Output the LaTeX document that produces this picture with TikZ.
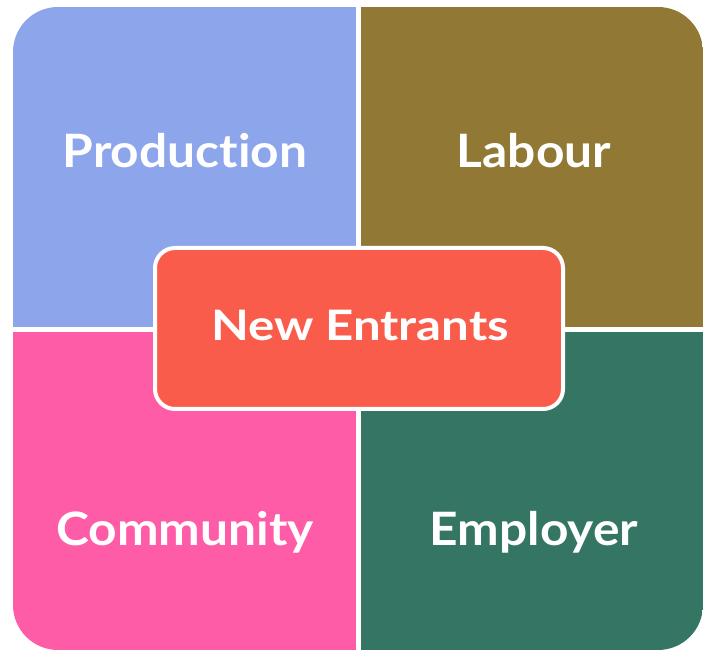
\documentclass[tikz,border=0pt]{standalone}
\usepackage{fontspec}
\setmainfont{Lato}[Ligatures=CommonOff]
\definecolor{qblue}{HTML}{8DA5EA}
\definecolor{qbrown}{HTML}{917935}
\definecolor{qpink}{HTML}{FF5CA8}
\definecolor{qgreen}{HTML}{347563}
\definecolor{qred}{HTML}{FA5C4B}
\begin{document}
\begin{tikzpicture}[x=1pt,y=1pt,
  lbl/.style={text=white,font=\fontsize{46}{54}\selectfont\bfseries\addfontfeature{FakeStretch=1.08},inner sep=0pt,anchor=base},
  clbl/.style={text=white,font=\fontsize{42}{50}\selectfont\bfseries\addfontfeature{FakeStretch=1.17},inner sep=0pt,anchor=base}]
\useasboundingbox (0,0) rectangle (709,650);
\begin{scope}
  \clip[rounded corners=45] (13,0) rectangle (703,643);
  \fill[qblue] (13,322.5) rectangle (356,643);
  \fill[qbrown] (361,322.5) rectangle (703,643);
  \fill[qpink] (13,0) rectangle (356,318);
  \fill[qgreen] (361,0) rectangle (703,318);
\end{scope}
\node[lbl] (prod) at (185,482) {Produc\kern0ptt\kern0pti\kern0pton};
\node[lbl] (lab) at (534,482) {Labour};
\node[lbl] (comm) at (185,104) {Community};
\node[lbl] (emp) at (534,104) {Employer};
\draw[white,line width=4,fill=qred,rounded corners=20] (155,241) rectangle (563,402);
\node[clbl] (new) at (360,309) {New Entrants};
\end{tikzpicture}
\end{document}
